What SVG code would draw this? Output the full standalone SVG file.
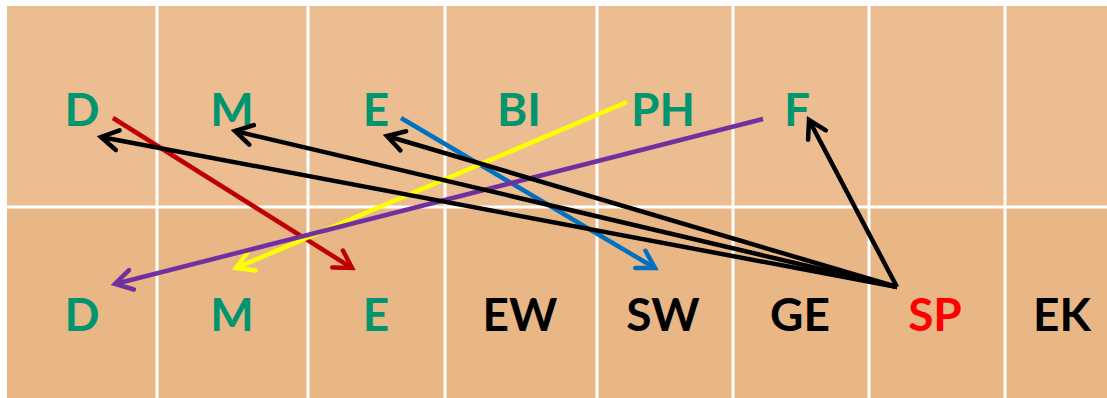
<svg xmlns="http://www.w3.org/2000/svg" width="1107" height="398" viewBox="0 0 1107 398">
<style>
.lbl{font-family:Lato,"Open Sans","Liberation Sans",sans-serif;font-weight:bold;font-size:46px;text-anchor:middle}
.g{fill:#00956F}.k{fill:#000000}.r{fill:#FF0000}
.grid{stroke:#FFFFFF;stroke-width:3}
.c{fill:none;stroke-width:4.5}
</style>
<defs>
<marker id="mk" viewBox="-24 -14 28 28" refX="0" refY="0" markerWidth="28" markerHeight="28" markerUnits="userSpaceOnUse" orient="auto"><path d="M-17,-10 L0,0 L-17,10" fill="none" stroke="#000000" stroke-width="4.5" stroke-linecap="round" stroke-linejoin="miter"/></marker>
<marker id="mr" viewBox="-24 -14 28 28" refX="0" refY="0" markerWidth="28" markerHeight="28" markerUnits="userSpaceOnUse" orient="auto"><path d="M-17,-10 L0,0 L-17,10" fill="none" stroke="#C00000" stroke-width="4.5" stroke-linecap="round"/></marker>
<marker id="mb" viewBox="-24 -14 28 28" refX="0" refY="0" markerWidth="28" markerHeight="28" markerUnits="userSpaceOnUse" orient="auto"><path d="M-17,-10 L0,0 L-17,10" fill="none" stroke="#0070C0" stroke-width="4.5" stroke-linecap="round"/></marker>
<marker id="my" viewBox="-24 -14 28 28" refX="0" refY="0" markerWidth="28" markerHeight="28" markerUnits="userSpaceOnUse" orient="auto"><path d="M-17,-10 L0,0 L-17,10" fill="none" stroke="#FFFF00" stroke-width="4.5" stroke-linecap="round"/></marker>
<marker id="mp" viewBox="-24 -14 28 28" refX="0" refY="0" markerWidth="28" markerHeight="28" markerUnits="userSpaceOnUse" orient="auto"><path d="M-17,-10 L0,0 L-17,10" fill="none" stroke="#7030A0" stroke-width="4.5" stroke-linecap="round"/></marker>
</defs>
<rect x="0" y="0" width="1107" height="398" fill="#FFFFFF"/>
<g id="grid">
<rect x="7" y="6" width="1100" height="201" fill="#ECBD91"/>
<rect x="7" y="207" width="1100" height="191" fill="#E9B686"/>
<line class="grid" x1="7" y1="207" x2="1107" y2="207"/>
<line class="grid" x1="157" y1="6" x2="157" y2="398"/>
<line class="grid" x1="308" y1="6" x2="308" y2="398"/>
<line class="grid" x1="445" y1="6" x2="445" y2="398"/>
<line class="grid" x1="597" y1="6" x2="597" y2="398"/>
<line class="grid" x1="733" y1="6" x2="733" y2="398"/>
<line class="grid" x1="869" y1="6" x2="869" y2="398"/>
<line class="grid" x1="1005" y1="6" x2="1005" y2="398"/>
</g>
<g id="n-top-D"><text class="lbl g" x="82" y="126">D</text></g>
<g id="n-top-M"><text class="lbl g" x="232" y="126">M</text></g>
<g id="n-top-E"><text class="lbl g" x="376" y="126">E</text></g>
<g id="n-top-BI"><text class="lbl g" x="519" y="126">BI</text></g>
<g id="n-top-PH"><text class="lbl g" x="663" y="126">PH</text></g>
<g id="n-top-F"><text class="lbl g" x="797" y="126">F</text></g>
<g id="n-bot-D"><text class="lbl g" x="82" y="331">D</text></g>
<g id="n-bot-M"><text class="lbl g" x="232" y="331">M</text></g>
<g id="n-bot-E"><text class="lbl g" x="376" y="331">E</text></g>
<g id="n-bot-EW"><text class="lbl k" x="520" y="331">EW</text></g>
<g id="n-bot-SW"><text class="lbl k" x="663" y="331">SW</text></g>
<g id="n-bot-GE"><text class="lbl k" x="800" y="331">GE</text></g>
<g id="n-bot-SP"><text class="lbl r" x="935" y="331">SP</text></g>
<g id="n-bot-EK"><text class="lbl k" x="1062" y="331">EK</text></g>
<g id="connectors">
<line class="c" stroke="#C00000" x1="113" y1="118" x2="352" y2="268" marker-end="url(#mr)"/>
<line class="c" stroke="#0070C0" x1="401" y1="118" x2="655" y2="268" marker-end="url(#mb)"/>
<line class="c" stroke="#FFFF00" x1="627" y1="102" x2="236" y2="268" marker-end="url(#my)"/>
<line class="c" stroke="#7030A0" x1="763" y1="119" x2="115" y2="284" marker-end="url(#mp)"/>
<line class="c" stroke="#000000" x1="897" y1="287" x2="101" y2="137" marker-end="url(#mk)"/>
<line class="c" stroke="#000000" x1="897" y1="287" x2="235" y2="131" marker-end="url(#mk)"/>
<line class="c" stroke="#000000" x1="897" y1="287" x2="387" y2="136" marker-end="url(#mk)"/>
<line class="c" stroke="#000000" x1="897" y1="287" x2="809" y2="120" marker-end="url(#mk)"/>
</g>
</svg>
